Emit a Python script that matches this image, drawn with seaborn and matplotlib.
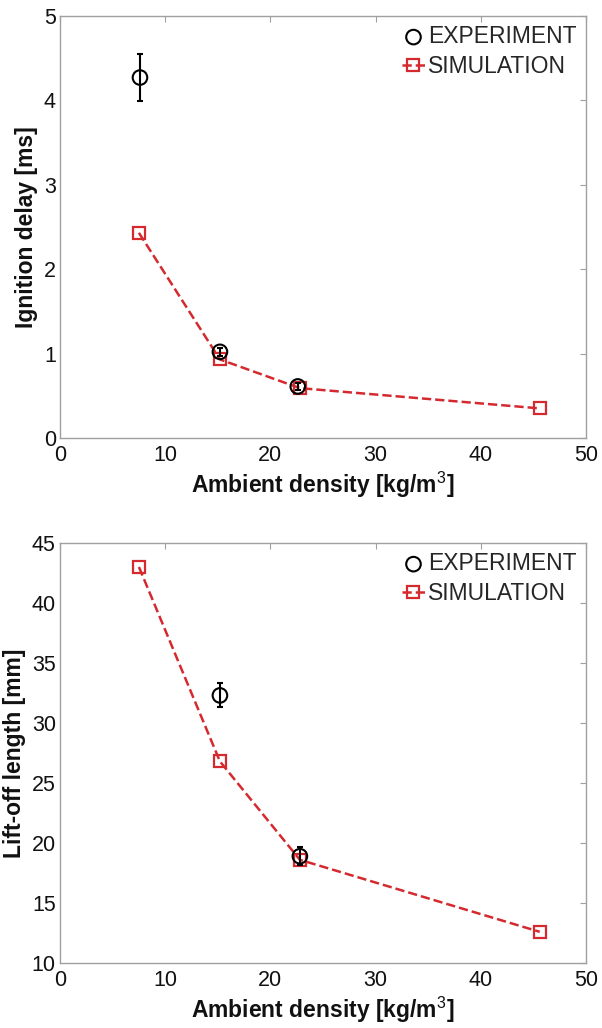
import matplotlib
matplotlib.use("Agg")
import matplotlib.pyplot as plt
import seaborn as sns
import pandas as pd

# Ignition delay vs ambient density
exp_rho_top = [7.6, 15.2, 22.6]
exp_ign = [4.27, 1.02, 0.61]
exp_ign_err = [0.28, 0.05, 0.04]
sim_rho_top = [7.5, 15.2, 22.8, 45.6]
sim_ign = [2.43, 0.93, 0.59, 0.35]

# Lift-off length vs ambient density
exp_rho_bot = [15.2, 22.8]
exp_lol = [32.3, 18.9]
exp_lol_err = [1.0, 0.75]
sim_rho_bot = [7.5, 15.2, 22.8, 45.6]
sim_lol = [43.0, 26.8, 18.6, 12.6]

x_ticks = [0, 10, 20, 30, 40, 50]
top_yticks = [0, 1, 2, 3, 4, 5]
bot_yticks = [10, 15, 20, 25, 30, 35, 40, 45]

sns.set_theme(style="white")
plt.rcParams["font.family"] = ["Liberation Sans", "DejaVu Sans"]
plt.rcParams["mathtext.fontset"] = "custom"
plt.rcParams["mathtext.rm"] = "Liberation Sans"
plt.rcParams["mathtext.bf"] = "Liberation Sans:bold"

RED = "#d42a2f"
GREY = "#a0a0a0"
INK = "#111111"

fig = plt.figure(figsize=(6.02, 10.28), dpi=100)
ax1 = fig.add_axes([0.0997, 0.574, 0.8738, 0.4105])
ax2 = fig.add_axes([0.0997, 0.0632, 0.8738, 0.4086])


def draw_panel(ax, ex, ey, eerr, sx, sy, yticks, ylabel):
    sim = pd.DataFrame({"rho": sx, "val": sy})
    exp = pd.DataFrame({"rho": ex, "val": ey, "err": eerr})
    sns.lineplot(data=sim, x="rho", y="val", ax=ax, sort=False, color=RED,
                 linestyle="--", linewidth=1.8, marker="s", markersize=9,
                 markerfacecolor="none", markeredgecolor=RED,
                 markeredgewidth=1.6, label="SIMULATION", zorder=3)
    ax.errorbar(exp["rho"], exp["val"], yerr=exp["err"], fmt="none",
                ecolor="black", elinewidth=1.5, capsize=2, capthick=1.5,
                zorder=4)
    sns.scatterplot(data=exp, x="rho", y="val", ax=ax, marker="o", s=110,
                    facecolor="none", edgecolor="black", linewidth=1.5,
                    label="EXPERIMENT", zorder=5)
    ax.set_xlim(x_ticks[0], x_ticks[-1])
    ax.set_ylim(yticks[0], yticks[-1])
    ax.set_xticks(x_ticks)
    ax.set_yticks(yticks)
    ax.tick_params(direction="in", length=4, width=0.8, color=GREY,
                   labelsize=15.5, labelcolor=INK, top=True, right=True)
    ax.tick_params(axis="x", pad=5)
    ax.tick_params(axis="y", pad=3)
    for sp in ax.spines.values():
        sp.set_color(GREY)
        sp.set_linewidth(1.0)
    ax.set_xlabel(r"Ambient density [kg/m$^{3}$]", fontsize=16.5,
                  fontweight="bold", color=INK, labelpad=3)
    ax.set_ylabel(ylabel, fontsize=16.5, fontweight="bold", color=INK,
                  labelpad=4)
    handles, labels = ax.get_legend_handles_labels()
    order = [labels.index("EXPERIMENT"), labels.index("SIMULATION")]
    ax.legend([handles[i] for i in order], [labels[i] for i in order],
              loc="upper right", frameon=False, fontsize=16.5,
              handlelength=1.0, handletextpad=0.15, labelspacing=0.32,
              borderaxespad=0.2, borderpad=0.2)


draw_panel(ax1, exp_rho_top, exp_ign, exp_ign_err, sim_rho_top, sim_ign,
           top_yticks, "Ignition delay [ms]")
draw_panel(ax2, exp_rho_bot, exp_lol, exp_lol_err, sim_rho_bot, sim_lol,
           bot_yticks, "Lift-off length [mm]")

fig.savefig("out.png", dpi=100)
